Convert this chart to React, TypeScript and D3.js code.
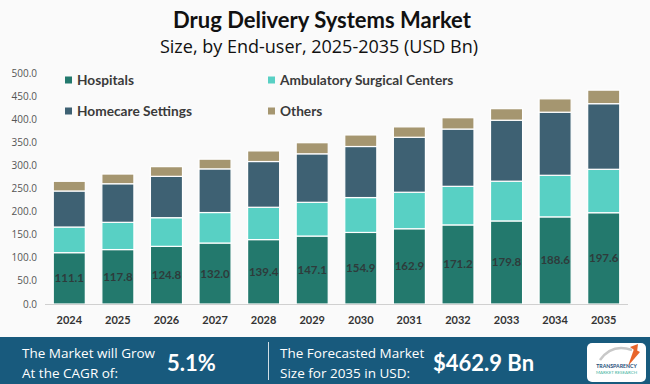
import React from 'react';
import * as d3 from 'd3';

const years = ['2024', '2025', '2026', '2027', '2028', '2029', '2030', '2031', '2032', '2033', '2034', '2035'];
const hospitals = [111.1, 117.8, 124.8, 132.0, 139.4, 147.1, 154.9, 162.9, 171.2, 179.8, 188.6, 197.6];
const ambulatory = [55.5, 59.0, 62.0, 66.0, 70.0, 73.0, 75.5, 79.0, 83.5, 86.0, 90.0, 94.0];
const homecare = [78.0, 83.5, 89.5, 94.5, 99.0, 105.0, 110.5, 119.0, 124.0, 132.0, 136.5, 142.0];
const others = [21.0, 21.0, 21.0, 21.0, 23.0, 24.0, 25.0, 22.5, 24.5, 25.0, 29.0, 29.3];
const seriesNames = ['Hospitals', 'Ambulatory Surgical Centers', 'Homecare Settings', 'Others'];
const seriesColors = ['#23796D', '#58D0C4', '#3E6173', '#A59670'];
const yTicks = [0, 50, 100, 150, 200, 250, 300, 350, 400, 450, 500];

const W = 650;
const H = 384;

export default function App() {
  const table = years.map((y, i) => ({
    year: y,
    Hospitals: hospitals[i],
    'Ambulatory Surgical Centers': ambulatory[i],
    'Homecare Settings': homecare[i],
    Others: others[i],
  }));
  const stacked = d3.stack<any>().keys(seriesNames)(table);

  const x = d3.scaleBand().domain(years).range([45, 628]).paddingInner(0.34).paddingOuter(0.17);
  const y = d3.scaleLinear().domain([0, 500]).range([304, 73]);
  const color = d3.scaleOrdinal<string, string>().domain(seriesNames).range(seriesColors);

  const legend = [
    { name: seriesNames[0], lx: 65, ly: 80 },
    { name: seriesNames[1], lx: 268, ly: 80 },
    { name: seriesNames[2], lx: 65, ly: 111 },
    { name: seriesNames[3], lx: 268, ly: 111 },
  ];

  const bold = 'Lato, "Open Sans", sans-serif';
  const light = '"Open Sans", Lato, sans-serif';

  return (
    <svg width={W} height={H} style={{ position: 'absolute', left: 0, top: 0, background: '#FAFAFA' }}>
      <rect width={W} height={H} fill="#FAFAFA" />
      <text x={322} y={28} textAnchor="middle" fontFamily={bold} fontWeight={700} fontSize={22} fill="#111">
        Drug Delivery Systems Market
      </text>
      <text x={319} y={53} textAnchor="middle" fontFamily={light} fontSize={18} fill="#111">
        Size, by End-user, 2025-2035 (USD Bn)
      </text>

      {/* y ticks */}
      {yTicks.map(t => (
        <text key={t} x={37} y={y(t)} dy="0.35em" textAnchor="end" fontFamily={light} fontSize={10} fill="#555">
          {t.toFixed(1)}
        </text>
      ))}

      {/* bars */}
      {stacked.map(s => (
        <g key={s.key} fill={color(s.key)}>
          {s.map((d, i) => (
            <rect
              key={i}
              x={x(years[i])}
              y={y(d[1])}
              width={x.bandwidth()}
              height={y(d[0]) - y(d[1])}
              stroke="#fff"
              strokeWidth={1.2}
            />
          ))}
        </g>
      ))}

      <line x1={45} x2={628} y1={304.5} y2={304.5} stroke="#D0D0D0" strokeWidth={1} />

      {/* value labels */}
      {hospitals.map((v, i) => (
        <text key={i} x={x(years[i])! + x.bandwidth() / 2} y={y(v / 2)} dy="0.35em" textAnchor="middle"
          fontFamily={bold} fontWeight={700} fontSize={11.5} fill="#2E3B3B">
          {v.toFixed(1)}
        </text>
      ))}

      {/* x labels */}
      {years.map(yr => (
        <text key={yr} x={x(yr)! + x.bandwidth() / 2} y={320} dy="0.35em" textAnchor="middle"
          fontFamily={bold} fontWeight={700} fontSize={11} fill="#333">
          {yr}
        </text>
      ))}

      {/* legend */}
      {legend.map(l => (
        <g key={l.name}>
          <rect x={l.lx} y={l.ly - 3.5} width={7} height={7} fill={color(l.name)} />
          <text x={l.lx + 12} y={l.ly} dy="0.35em" fontFamily={bold} fontWeight={700} fontSize={13.7} fill="#3A3A3A">
            {l.name}
          </text>
        </g>
      ))}

      {/* banner */}
      <rect x={0} y={337} width={W} height={H - 337} fill="#185A7D" />
      <text x={22} y={353} dy="0.35em" fontFamily={light} fontSize={13.5} fill="#fff">The Market will Grow</text>
      <text x={22} y={373} dy="0.35em" fontFamily={light} fontSize={13.5} fill="#fff">At the CAGR of:</text>
      <text x={167} y={363} dy="0.35em" fontFamily={bold} fontWeight={700} fontSize={22} fill="#fff">5.1%</text>
      <line x1={268.5} x2={268.5} y1={342} y2={380} stroke="#fff" strokeWidth={1} opacity={0.8} />
      <text x={280} y={353} dy="0.35em" fontFamily={light} fontSize={13.5} fill="#fff">The Forecasted Market</text>
      <text x={280} y={373} dy="0.35em" fontFamily={light} fontSize={13.5} fill="#fff">Size for 2035 in USD:</text>
      <text x={433} y={363} dy="0.35em" fontFamily={bold} fontWeight={700} fontSize={22} fill="#fff">$462.9 Bn</text>

      {/* logo */}
      <g>
        <rect x={587} y={343} width={59} height={39} rx={5} fill="#fff" />
        <path d="M600,360 Q612,343 632,350" fill="none" stroke="#C8C8C8" strokeWidth={2.5} />
        <path d="M628,366 L634,349 L640,352 Z" fill="#E8652B" />
        <path d="M630,347 L638,344 L637,352 Z" fill="#E8652B" />
        <text x={616.5} y={368} textAnchor="middle" fontFamily={bold} fontWeight={700} fontSize={5.2} fill="#1E4F7A">TRANSPARENCY</text>
        <text x={616.5} y={374} textAnchor="middle" fontFamily={bold} fontSize={4.4} fill="#3DB39E">MARKET RESEARCH</text>
      </g>
    </svg>
  );
}
